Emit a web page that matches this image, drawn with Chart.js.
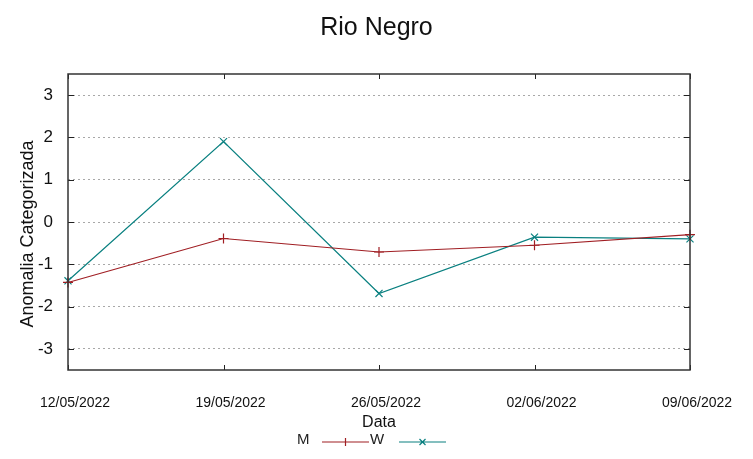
<!DOCTYPE html>
<html>
<head>
<meta charset="utf-8">
<script src="https://cdn.jsdelivr.net/npm/chart.js@4.4.0/dist/chart.umd.min.js"></script>
<style>
  html, body { margin: 0; padding: 0; background: #fff; }
  #wrap { width: 753px; height: 459px; }
</style>
</head>
<body>
<div id="wrap"><canvas id="rioChart" width="753" height="459"></canvas></div>
<script>
const dates = ["12/05/2022", "19/05/2022", "26/05/2022", "02/06/2022", "09/06/2022"];
const seriesM = [-1.43, -0.39, -0.71, -0.55, -0.30];
const seriesW = [-1.39, 1.90, -1.69, -0.36, -0.40];
const yTicks = [-3, -2, -1, 0, 1, 2, 3];

const colorM = "#a01e23";
const colorW = "#0a8080";
const FONT = "'Liberation Sans', Arial, sans-serif";

// gnuplot-like frame, inward ticks, y title and bottom key
const framePlugin = {
  id: "frame",
  afterDatasetsDraw(chart) {
    const { ctx, chartArea: { left, right, top, bottom }, scales: { x, y } } = chart;
    ctx.save();
    ctx.strokeStyle = "#222";
    ctx.lineWidth = 1;
    yTicks.forEach((v) => {
      const py = Math.round(y.getPixelForValue(v)) + 0.5;
      ctx.beginPath();
      ctx.moveTo(left, py); ctx.lineTo(left + 6, py);
      ctx.moveTo(right, py); ctx.lineTo(right - 6, py);
      ctx.stroke();
    });
    dates.forEach((d, i) => {
      const px = Math.round(x.getPixelForValue(i)) + 0.5;
      ctx.beginPath();
      ctx.moveTo(px, bottom); ctx.lineTo(px, bottom - 5);
      ctx.moveTo(px, top); ctx.lineTo(px, top + 5);
      ctx.stroke();
    });
    ctx.strokeStyle = "#333";
    ctx.lineWidth = 1.5;
    ctx.strokeRect(left, top, right - left, bottom - top);
    ctx.restore();
  },
  afterDraw(chart) {
    const { ctx } = chart;
    ctx.save();
    ctx.fillStyle = "#111";
    ctx.font = "18px " + FONT;
    ctx.textAlign = "center";
    ctx.textBaseline = "middle";
    ctx.translate(28, 234);
    ctx.rotate(-Math.PI / 2);
    ctx.fillText("Anomalia Categorizada", 0, 0);
    ctx.restore();

    const ky = 442;
    ctx.save();
    ctx.font = "15px " + FONT;
    ctx.textBaseline = "middle";
    ctx.textAlign = "left";
    const keys = [
      { label: "M", color: colorM, x: 297, x0: 322, x1: 369, mark: "plus" },
      { label: "W", color: colorW, x: 370, x0: 399, x1: 446, mark: "cross" },
    ];
    keys.forEach((k) => {
      ctx.fillStyle = "#222";
      ctx.fillText(k.label, k.x, ky - 2);
      ctx.strokeStyle = k.color;
      ctx.lineWidth = 1.2;
      ctx.beginPath();
      ctx.moveTo(k.x0, ky); ctx.lineTo(k.x1, ky);
      const mx = (k.x0 + k.x1) / 2;
      if (k.mark === "plus") {
        ctx.moveTo(mx, ky - 4); ctx.lineTo(mx, ky + 4);
      } else {
        ctx.moveTo(mx - 3, ky - 3); ctx.lineTo(mx + 3, ky + 3);
        ctx.moveTo(mx + 3, ky - 3); ctx.lineTo(mx - 3, ky + 3);
      }
      ctx.stroke();
    });
    ctx.restore();
  },
};

const ctx = document.getElementById("rioChart").getContext("2d");

new Chart(ctx, {
  type: "line",
  data: {
    labels: dates,
    datasets: [
      {
        label: "M",
        data: seriesM,
        borderColor: colorM,
        borderWidth: 1.2,
        pointStyle: "cross",
        pointRadius: 5,
        pointBorderColor: colorM,
        pointBorderWidth: 1.2,
        tension: 0,
        fill: false,
      },
      {
        label: "W",
        data: seriesW,
        borderColor: colorW,
        borderWidth: 1.2,
        pointStyle: "crossRot",
        pointRadius: 5,
        pointBorderColor: colorW,
        pointBorderWidth: 1.2,
        tension: 0,
        fill: false,
      },
    ],
  },
  options: {
    responsive: false,
    animation: false,
    maintainAspectRatio: false,
    layout: { padding: { left: 0, right: 0, top: 0, bottom: 27 } },
    plugins: {
      legend: { display: false },
      tooltip: { enabled: false },
      title: {
        display: true,
        text: "Rio Negro",
        color: "#111",
        font: { family: FONT, size: 25, weight: "normal" },
        padding: { top: 13, bottom: 31 },
      },
    },
    scales: {
      x: {
        type: "category",
        offset: false,
        grid: { display: false, drawTicks: false },
        border: { display: false },
        ticks: {
          color: "#111",
          font: { family: FONT, size: 14 },
          padding: 25,
          labelOffset: 7,
          maxRotation: 0,
          autoSkip: false,
        },
        title: {
          display: true,
          text: "Data",
          color: "#111",
          font: { family: FONT, size: 16 },
          padding: { top: 0, bottom: 0 },
        },
        afterFit(scale) { scale.height = 62; },
      },
      y: {
        min: -3.5,
        max: 3.5,
        afterBuildTicks(scale) {
          scale.ticks = yTicks.map((v) => ({ value: v }));
        },
        grid: {
          color: "#a8a8a8",
          lineWidth: 1,
          drawTicks: false,
        },
        border: { display: false, dash: [2, 3] },
        ticks: {
          color: "#111",
          font: { family: FONT, size: 17 },
          padding: 15,
        },
        afterFit(scale) { scale.width = 68; },
      },
      yRight: {
        position: "right",
        min: -3.5,
        max: 3.5,
        grid: { display: false, drawTicks: false },
        border: { display: false },
        ticks: { display: false },
        afterFit(scale) { scale.width = 63; },
      },
    },
  },
  plugins: [framePlugin],
});
</script>
</body>
</html>
